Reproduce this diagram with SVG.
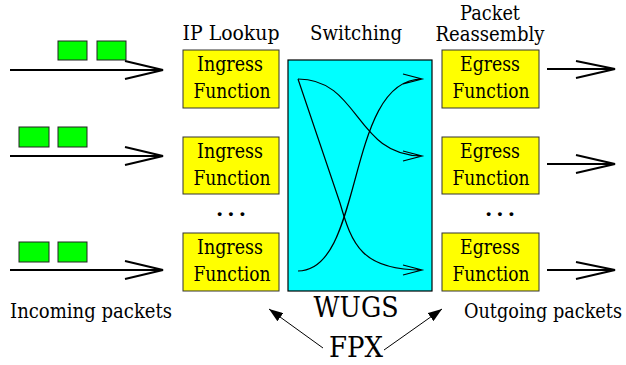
<svg xmlns="http://www.w3.org/2000/svg" width="626" height="365" viewBox="0 0 626 365">
<defs>
<style>
text{font-family:'DejaVu Serif','Liberation Serif',serif;font-size:21px;fill:#000;text-anchor:middle}
.big{font-size:27.5px}
.sm{font-size:19.5px}
.box{fill:#ffff00;stroke:#333;stroke-width:1}
.sw{fill:#00ffff;stroke:#000;stroke-width:1.2}
.pk{fill:#00ff00;stroke:#222;stroke-width:1}
.ln{fill:none;stroke:#000;stroke-width:2}
.cv{fill:none;stroke:#000;stroke-width:1.2}
.fa{fill:none;stroke:#000;stroke-width:1}
.dots{font-weight:bold;letter-spacing:4px}
</style>
<marker id="tri" viewBox="0 0 14 10" refX="14" refY="5" markerWidth="14" markerHeight="10" markerUnits="userSpaceOnUse" orient="auto">
<path d="M0,0 L14,5 L0,10 Z" fill="#000"/>
</marker>
</defs>
<rect width="626" height="365" fill="#fff"/>

<g id="labels">
<text x="231" y="40" textLength="97" lengthAdjust="spacingAndGlyphs">IP Lookup</text>
<text x="356" y="40" textLength="92" lengthAdjust="spacingAndGlyphs">Switching</text>
<text class="sm" x="490" y="20" textLength="60" lengthAdjust="spacingAndGlyphs">Packet</text>
<text class="sm" x="490" y="41" textLength="109" lengthAdjust="spacingAndGlyphs">Reassembly</text>
<text x="10" y="318" text-anchor="start" style="text-anchor:start" textLength="162" lengthAdjust="spacingAndGlyphs">Incoming packets</text>
<text x="622" y="318" text-anchor="end" style="text-anchor:end" textLength="158" lengthAdjust="spacingAndGlyphs">Outgoing packets</text>
<text class="dots" x="233" y="216">...</text>
<text class="dots" x="502" y="216">...</text>
</g>

<g id="packets">
<rect class="pk" x="58" y="41" width="29" height="19"/>
<rect class="pk" x="97" y="41" width="29" height="19"/>
<rect class="pk" x="19" y="127" width="30" height="20"/>
<rect class="pk" x="58" y="127" width="29" height="20"/>
<rect class="pk" x="19" y="242" width="30" height="20"/>
<rect class="pk" x="58" y="242" width="29" height="20"/>
</g>

<g id="switch">
<rect class="sw" x="288" y="60" width="144" height="231"/>
<text class="big" x="356" y="317" textLength="85" lengthAdjust="spacingAndGlyphs">WUGS</text>
</g>

<g id="ingress1"><rect class="box" x="183" y="50" width="96" height="58"/><text x="230" y="71" textLength="66" lengthAdjust="spacingAndGlyphs">Ingress</text><text x="232" y="98" textLength="77" lengthAdjust="spacingAndGlyphs">Function</text></g>
<g id="ingress2"><rect class="box" x="183" y="137" width="96" height="57"/><text x="230" y="158" textLength="66" lengthAdjust="spacingAndGlyphs">Ingress</text><text x="232" y="185" textLength="77" lengthAdjust="spacingAndGlyphs">Function</text></g>
<g id="ingress3"><rect class="box" x="183" y="233" width="96" height="58"/><text x="230" y="254" textLength="66" lengthAdjust="spacingAndGlyphs">Ingress</text><text x="232" y="281" textLength="77" lengthAdjust="spacingAndGlyphs">Function</text></g>
<g id="egress1"><rect class="box" x="442" y="50" width="97" height="58"/><text x="490" y="71" textLength="60" lengthAdjust="spacingAndGlyphs">Egress</text><text x="491" y="98" textLength="77" lengthAdjust="spacingAndGlyphs">Function</text></g>
<g id="egress2"><rect class="box" x="442" y="137" width="97" height="57"/><text x="490" y="158" textLength="60" lengthAdjust="spacingAndGlyphs">Egress</text><text x="491" y="185" textLength="77" lengthAdjust="spacingAndGlyphs">Function</text></g>
<g id="egress3"><rect class="box" x="442" y="233" width="97" height="58"/><text x="490" y="254" textLength="60" lengthAdjust="spacingAndGlyphs">Egress</text><text x="491" y="281" textLength="77" lengthAdjust="spacingAndGlyphs">Function</text></g>

<g id="fpx"><text class="big" x="356" y="357" textLength="54" lengthAdjust="spacingAndGlyphs">FPX</text></g>

<g id="connectors">
<path class="ln" d="M10,70 H163 M125,61 L163,70 L125,79"/>
<path class="ln" d="M10,156 H163 M125,147 L163,156 L125,165"/>
<path class="ln" d="M10,270 H163 M125,261 L163,270 L125,279"/>
<path class="ln" d="M547,69 H615 M576,61 L615,69 L576,78"/>
<path class="ln" d="M547,164 H615 M576,155 L615,164 L576,173"/>
<path class="ln" d="M547,270 H615 M576,262 L615,270 L576,279"/>
<path class="cv" d="M298,79 C360,79 355,156 422,156 M403,151 L422,156 L403,161"/>
<path class="cv" d="M298,79 L340,203 C352,245 362,270 422,270 M403,265 L422,270 L403,275"/>
<path class="cv" d="M298,271 C365,271 345,79 422,79 M403,74 L422,79 L403,84"/>
<path class="fa" d="M323,348 L269,309" marker-end="url(#tri)"/>
<path class="fa" d="M384,350 L442,309" marker-end="url(#tri)"/>
</g>
</svg>
